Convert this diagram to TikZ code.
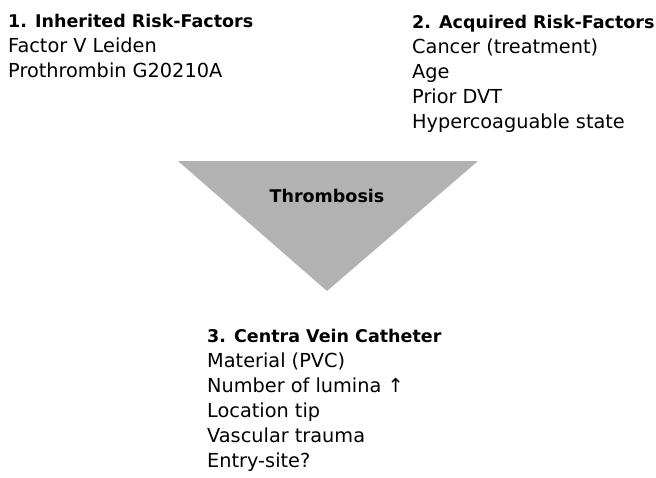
\documentclass[tikz,border=0pt]{standalone}
\usepackage{fontspec}
\setmainfont{DejaVu Sans}
\usepackage{tikz}
\newcommand{\headfont}{\fontsize{17.5}{25}\selectfont\bfseries}
\tikzstyle{factors}=[anchor=base west, align=left, inner sep=0pt, font=\fontsize{19.3}{25}\selectfont]
\tikzstyle{funnel}=[fill=black!30, draw=none]
\begin{document}
\begin{tikzpicture}[x=1pt, y=-1pt]
	\useasboundingbox (0,0) rectangle (656,477);

	%funnel
	\coordinate (tl) at (178,161);
	\coordinate (tr) at (478,161);
	\coordinate (tip) at (327,291);
	\fill [style=funnel] (tl) -- (tr) -- (tip) -- cycle;
	\node [style=factors, anchor=base] (thrombosis) at (327,202) {\headfont Thrombosis};

	%risk factors (placed at their last line)
	\node [style=factors] (inherited) at (8,77) {{\headfont 1. Inherited Risk-Factors}\\
		Factor V Leiden\\
		Prothrombin G20210A};
	\node [style=factors] (acquired) at (412,128) {{\headfont 2. Acquired Risk-Factors}\\
		Cancer (treatment)\\
		Age\\
		Prior DVT\\
		Hypercoaguable state};
	\node [style=factors] (catheter) at (207,467) {{\headfont 3. Centra Vein Catheter}\\
		Material (PVC)\\
		Number of lumina ↑\\
		Location tip\\
		Vascular trauma\\
		Entry-site?};
\end{tikzpicture}
\end{document}
